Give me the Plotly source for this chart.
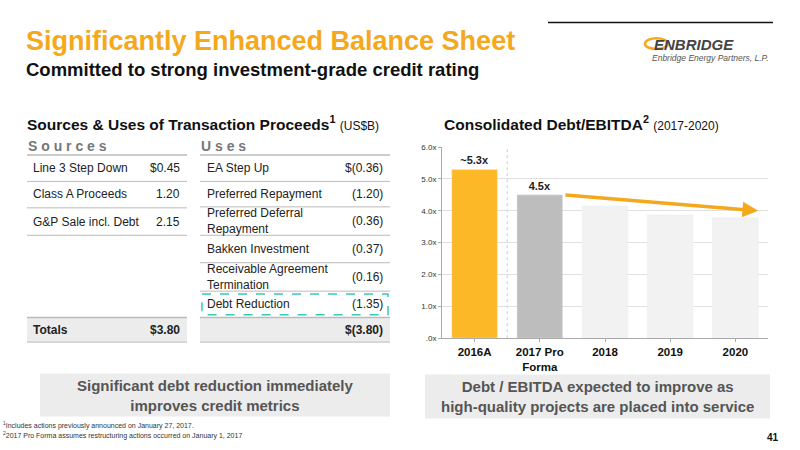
import plotly.graph_objects as go

# chart data
years = ["2016A", "2017 Pro<br>Forma", "2018", "2019", "2020"]
ratios = [5.3, 4.5, 4.15, 3.87, 3.78]
bar_labels = ["~5.3x", "4.5x", "", "", ""]
bar_colors = ["#FDB827", "#BDBDBD", "#F2F2F2", "#F2F2F2", "#F2F2F2"]
y_ticks = [0, 1, 2, 3, 4, 5, 6]
y_tick_text = [".0x", "1.0x", "2.0x", "3.0x", "4.0x", "5.0x", "6.0x"]

# table data
sources = [("Line 3 Step Down", "$0.45"), ("Class A Proceeds", "1.20"), ("G&P Sale incl. Debt", "2.15")]
uses = [("EA Step Up", "$(0.36)"), ("Preferred Repayment", "(1.20)"),
        ("Preferred Deferral<br>Repayment", "(0.36)"), ("Bakken Investment", "(0.37)"),
        ("Receivable Agreement<br>Termination", "(0.16)"), ("Debt Reduction", "(1.35)")]
totals = ("$3.80", "$(3.80)")

W, H = 800, 450
ORANGE = "#F5A81C"
FONT = "Liberation Sans, Arial, sans-serif"


def px(x):
    return x / W


def py(y):
    return 1 - y / H


fig = go.Figure()
fig.add_trace(go.Bar(x=years, y=ratios, marker_color=bar_colors, width=0.7,
                     text=["<b>%s</b>" % t if t else "" for t in bar_labels], textposition="outside",
                     textfont=dict(size=11, color="#222", family=FONT), cliponaxis=False))

shapes = []
ann = []


def text(x, y, s, size=12, color="#222", bold=False, xanchor="left", align="left"):
    if bold:
        s = "<b>" + s + "</b>"
    ann.append(dict(x=px(x), y=py(y), xref="paper", yref="paper", text=s, showarrow=False,
                    xanchor=xanchor, yanchor="middle", align=align, borderpad=0,
                    font=dict(size=size, color=color, family=FONT)))


def hline(x0, x1, y, color="#BBBBBB", width=1, dash=None):
    shapes.append(dict(type="line", xref="paper", yref="paper", x0=px(x0), x1=px(x1),
                       y0=py(y), y1=py(y), line=dict(color=color, width=width, dash=dash)))


def rect(x0, y0, x1, y1, fill, line=None, dash=None):
    shapes.append(dict(type="rect", xref="paper", yref="paper", x0=px(x0), x1=px(x1),
                       y0=py(y0), y1=py(y1), fillcolor=fill, layer="below",
                       line=dict(color=line or fill, width=1.5 if line else 0, dash=dash)))


# header
text(25, 38, "Significantly Enhanced Balance Sheet", size=27, color=ORANGE, bold=True)
text(25, 67, "Committed to strong investment-grade credit rating", size=18.5, color="#111", bold=True)
hline(548, 773, 19, color="#111", width=1.5)
shapes.append(dict(type="circle", xref="paper", yref="paper", x0=px(645), x1=px(668),
                   y0=py(35), y1=py(46), line=dict(color=ORANGE, width=2.5)))
text(653, 41, "<i>ENBRIDGE</i>", size=15, color="#444", bold=True)
text(651, 55, "<i>Enbridge Energy Partners, L.P.</i>", size=8.5, color="#555")

# section titles
text(26, 121, "<b>Sources & Uses of Transaction Proceeds<sup>1</sup></b> <span style='font-size:12px'>(US$B)</span>", size=15.5, color="#111")
text(443, 121, "<b>Consolidated Debt/EBITDA<sup>2</sup></b> <span style='font-size:12px'>(2017-2020)</span>", size=15.5, color="#111")

# table
text(27, 145, "<b>S o u r c e s</b>", size=14, color="#777")
text(200, 145, "<b>U s e s</b>", size=14, color="#777")
hline(27, 187, 154, width=1.5)
hline(200, 390, 154, width=1.5)
src_y = [167, 194, 222]
for (name, val), y in zip(sources, src_y):
    text(32, y, name)
    text(181, y, val, xanchor="right")
    hline(27, 187, y + 14)
use_y = [167, 194, 221, 250, 279, 306]
use_line = [181, 207, 236, 264, 293]
for (name, val), y in zip(uses, use_y):
    text(206, y, name)
    text(384, y, val, xanchor="right")
for y in use_line:
    hline(200, 390, y)
rect(202, 296, 388, 317, "rgba(0,0,0,0)", line="#3CC8B4", dash="dash")
rect(27, 320, 187, 345, "#ECECEC")
rect(200, 320, 390, 345, "#ECECEC")
hline(27, 187, 320, width=1.5)
hline(200, 390, 320, width=1.5)
hline(27, 187, 345)
hline(200, 390, 345)
text(32, 333, "Totals", bold=True)
text(181, 333, totals[0], bold=True, xanchor="right")
text(384, 333, totals[1], bold=True, xanchor="right")

# bottom boxes
rect(40, 377, 390, 421, "#ECECEC")
rect(425, 378, 770, 423, "#ECECEC")
text(215, 399, "<b>Significant debt reduction immediately<br>improves credit metrics</b>", size=15,
     color="#555", xanchor="center", align="center")
text(597, 400, "<b>Debt / EBITDA expected to improve as<br>high-quality projects are placed into service</b>", size=15,
     color="#555", xanchor="center", align="center")

# footnotes
text(2, 430, "<sup>1</sup>Includes actions previously announced on January 27, 2017.", size=7, color="#333")
text(2, 440, "<sup>2</sup>2017 Pro Forma assumes restructuring actions occurred on January 1, 2017", size=7, color="#333")
text(780, 442, "<b>41</b>", size=10, color="#111", xanchor="right")

# arrow
ann.append(dict(x=4.35, y=4.0, ax=1.37, ay=4.5, xref="x", yref="y", axref="x", ayref="y",
                showarrow=True, arrowhead=2, arrowsize=0.9, arrowwidth=3.5, arrowcolor=ORANGE, text=""))

shapes.append(dict(type="line", xref="x", yref="y", x0=0.5, x1=0.5, y0=0, y1=6,
                   line=dict(color="#CCCCCC", width=1, dash="dot"), layer="below"))

fig.update_layout(
    width=W, height=H, margin=dict(l=0, r=0, t=0, b=0),
    paper_bgcolor="white", plot_bgcolor="white", showlegend=False,
    shapes=shapes, annotations=ann, font=dict(family=FONT),
    xaxis=dict(domain=[px(442), px(768)], showline=True, linecolor="#AAAAAA", ticks="outside",
               ticklen=3, tickcolor="#AAAAAA", tickfont=dict(size=11.5, color="#111")),
    yaxis=dict(domain=[py(341), py(146)], range=[0, 6], tickvals=y_ticks, ticktext=y_tick_text,
               showgrid=True, gridcolor="#E0E0E0", showline=True, linecolor="#AAAAAA",
               ticks="outside", ticklen=3, tickcolor="#AAAAAA", zeroline=False,
               tickfont=dict(size=8, color="#333")),
)
fig.update_xaxes(tickprefix="<b>", ticksuffix="</b>")
fig.write_html("out.html", config={"displayModeBar": False},
               post_script="document.body.style.margin='0';")
